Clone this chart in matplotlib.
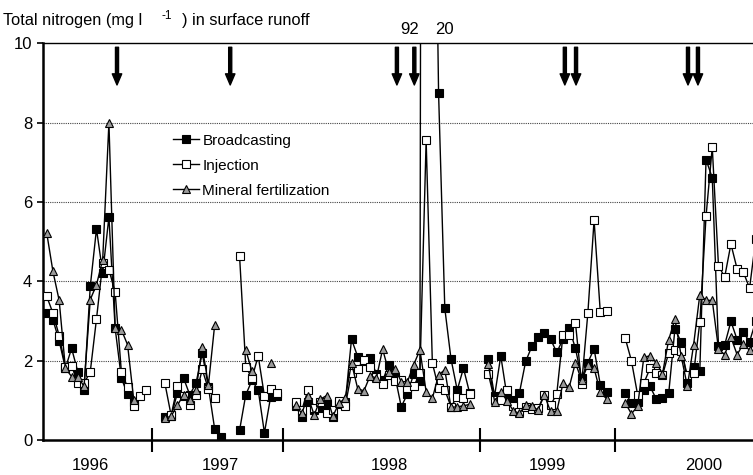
import matplotlib
matplotlib.use('Agg')
import matplotlib.pyplot as plt
import numpy as np

plt.rcParams['font.family'] = ['Liberation Sans', 'DejaVu Sans']

N = None

# total nitrogen (mg/l), one value per sampling date, None = no sample
broadcasting = [
    # 1996
    3.2, 3.03, 2.5, 1.81, 2.31, 1.72, 1.26, 3.87, 5.32, 4.21, 5.62, 2.82, 1.56, 1.15, 0.95, N, N,
    N, N,
    # 1997
    0.59, 0.6, 1.18, 1.56, 1.14, 1.43, 2.19, 1.33, 0.28, 0.08,
    N, N,
    0.24, 1.14, 1.5, 1.26, 0.18, 1.09, 1.1,
    N, N,
    # 1998
    0.85, 0.59, 0.97, 0.76, 0.8, 0.9, 0.57, 0.9, 0.95, 2.54, 2.1, 2.0, 2.06, 1.67, 1.5,
    1.89, 1.6, 0.84, 1.16, 1.67, 1.49, 92, 20, 8.74, 3.32, 2.04, 1.26, 1.81, 1.18,
    N, N,
    # 1999
    2.04, 1.11, 2.12, 1.1, 1.01, 1.19, 1.98, 2.36, 2.59, 2.69, 2.54, 2.21, 2.54, 2.82,
    2.31, 1.56, 1.95, 2.3, 1.39, 1.2,
    N, N,
    # 2000
    1.19, 0.94, 0.96, 1.26, 1.35, 1.03, 1.05, 1.18, 2.8, 2.47, 1.43, 1.83, 1.74, 7.07,
    6.61, 2.36, 2.4, 2.99, 2.53, 2.71, 2.48, 3.0,
]

injection = [
    # 1996
    3.62, 3.2, 2.63, 1.85, 1.87, 1.43, 1.43, 1.72, 3.05, 4.46, 4.29, 3.73, 1.72, 1.33, 0.86, 1.11, 1.26,
    N, N,
    # 1997
    1.43, 0.62, 1.35, 1.12, 0.88, 1.14, 1.78, 1.28, 1.05, N,
    N, N,
    4.65, 1.85, 1.56, 2.12, 1.11, 1.28, 1.19,
    N, N,
    # 1998
    0.97, 0.75, 1.26, 0.8, 0.95, 0.67, 0.75, 0.99, 0.86, 1.69, 1.8, 2.02, 1.83, 1.6, 1.41,
    1.65, 1.48, 1.52, 1.3, 1.35, 1.68, 7.55, 1.94, 1.3, 1.26, 0.84, 1.09, 1.05, 1.16,
    N, N,
    # 1999
    1.67, 1.0, 1.0, 1.25, 0.85, 0.7, 0.83, 0.77, 0.8, 1.14, 0.88, 1.16, 2.65, 2.65,
    2.96, 1.41, 3.2, 5.54, 3.22, 3.24,
    N, N,
    # 2000
    2.57, 2.0, 1.14, 1.43, 1.81, 1.68, 1.63, 2.2, 2.26, 2.24, 1.63, 1.68, 2.97, 5.64,
    7.38, 4.39, 4.11, 4.94, 4.31, 4.23, 3.83, 5.07,
]

mineral = [
    # 1996
    5.22, 4.25, 3.52, 1.81, 1.6, 1.6, 1.35, 3.54, 3.91, 4.55, 8.0, 2.82, 2.78, 2.4, 1.0, N, N,
    N, N,
    # 1997
    0.55, 0.6, 0.87, 1.14, 1.0, 1.26, 2.34, 1.39, 2.9, N,
    N, N,
    N, 2.27, 1.73, N, N, 1.95, N,
    N, N,
    # 1998
    0.88, 0.67, 1.1, 0.63, 1.03, 1.12, 0.6, 0.93, 1.05, 1.94, 1.29, 1.24, 1.62, 1.56, 2.29,
    1.72, 1.8, 1.47, 1.47, 1.9, 2.27, 1.22, 1.05, 1.64, 1.77, 0.82, 0.84, 0.86, 0.9,
    N, N,
    # 1999
    1.92, 0.97, 1.22, 0.99, 0.74, 0.67, 0.88, 0.86, 0.75, 1.14, 0.72, 0.72, 1.43, 1.33,
    1.95, 1.5, 1.89, 1.81, 1.2, 1.04,
    N, N,
    # 2000
    0.94, 0.66, 0.85, 2.09, 2.12, 1.95, 1.67, 2.53, 3.05, 2.12, 1.35, 2.4, 3.66, 3.52,
    3.52, 2.3, 2.15, 2.59, 2.15, 2.43, 2.26, 2.5,
]

years = ['1996', '1997', '1998', '1999', '2000']
year_centres = [7.0, 27.9, 55.1, 80.5, 105.6]
year_breaks = [16.9, 38.0, 69.7, 91.4]

# slurry application dates (arrows)
arrow_x = [11.3, 29.5, 56.3, 59.1, 83.3, 85.1, 103.1, 104.7]

# values that go off the scale
off_labels = ['92', '20']
off_label_x = [58.4, 64.0]

W, H = 753, 475
fig = plt.figure(figsize=(W / 100, H / 100), dpi=100)
ax_l, ax_t, ax_b = 43.3, 43.3, 440
ax = fig.add_axes([ax_l / W, 1 - ax_b / H, 1 - ax_l / W, (ax_b - ax_t) / H])

def to_arr(vals):
    return np.array([np.nan if v is None else v for v in vals], dtype=float)

x = np.arange(len(broadcasting))
b = to_arr(broadcasting)
inj = to_arr(injection)
m = to_arr(mineral)

ax.plot(x, b, color='black', lw=1.0, marker='s', ms=5.8, mfc='black', mec='black',
        mew=0.8, label='Broadcasting', zorder=3)
ax.plot(x, inj, color='black', lw=1.0, marker='s', ms=5.8, mfc='white', mec='black',
        mew=0.8, label='Injection', zorder=4)
ax.plot(x, m, color='black', lw=1.0, marker='^', ms=6.4, mfc='#9a9a9a', mec='black',
        mew=0.8, label='Mineral fertilization', zorder=5)

ax.set_xlim(-0.55, 113.55)
ax.set_ylim(0, 10)

for v in [2, 4, 6, 8]:
    ax.axhline(v, color='#444444', lw=0.8, ls=(0, (1, 1)), zorder=0)

ax.spines['right'].set_visible(False)
ax.spines['left'].set_linewidth(1.8)
ax.spines['bottom'].set_linewidth(1.8)
ax.spines['top'].set_linewidth(1.0)

ax.set_yticks(range(0, 11, 2))
ax.tick_params(axis='y', direction='out', length=4, width=1.2, pad=4, labelsize=12)

ax.set_xticks(year_breaks)
ax.tick_params(axis='x', which='major', direction='inout', length=17, width=1.5,
               labelbottom=False)
ax.set_xticks(year_centres, minor=True)
ax.set_xticklabels(years, minor=True)
ax.tick_params(axis='x', which='minor', length=0, pad=13, labelsize=12)

for xa in arrow_x:
    ax.annotate('', xy=(xa, 8.95), xytext=(xa, 9.9),
                arrowprops=dict(width=2.2, headwidth=6.8, headlength=8, shrink=0,
                                facecolor='black', edgecolor='black'),
                annotation_clip=False)

for lab, xl in zip(off_labels, off_label_x):
    ax.text(xl, 10.15, lab, ha='center', va='bottom', fontsize=12)

ax.legend(loc='upper left', bbox_to_anchor=(0.1823, 0.772), frameon=False,
          borderpad=0, borderaxespad=0, handlelength=1.75, handletextpad=0.2,
          labelspacing=0.72, fontsize=11)

# y-axis title with superscript
fs = 11.8
fig.text(3 / W, 1 - 25 / H, 'Total nitrogen (mg l', fontsize=fs, va='baseline')
fig.text(161 / W, 1 - 19 / H, '-1', fontsize=8.5, va='baseline')
fig.text(182 / W, 1 - 25 / H, ') in surface runoff', fontsize=fs, va='baseline')

fig.savefig('out.png', dpi=100)
